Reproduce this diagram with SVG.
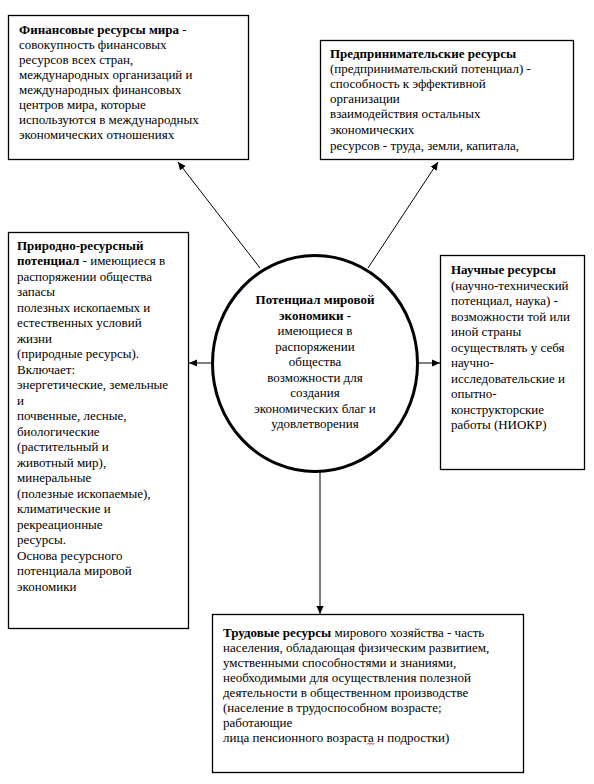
<svg xmlns="http://www.w3.org/2000/svg" width="594" height="784" viewBox="0 0 594 784">
<defs>
<marker id="ah" viewBox="0 0 10 10" refX="10" refY="5" markerWidth="8" markerHeight="8" markerUnits="userSpaceOnUse" orient="auto">
<path d="M0,0.5 L10,5 L0,9.5 z" fill="#000"/>
</marker>
</defs>
<rect width="594" height="784" fill="#fff"/>

<g id="connectors" stroke="#000" stroke-width="1" fill="none">
<line x1="260" y1="268" x2="178" y2="162" marker-end="url(#ah)"/>
<line x1="368" y1="268" x2="438" y2="162" marker-end="url(#ah)"/>
<line x1="212" y1="363" x2="189" y2="363" marker-end="url(#ah)"/>
<line x1="418" y1="363" x2="440" y2="363" marker-end="url(#ah)"/>
<line x1="320" y1="471" x2="320" y2="614" marker-end="url(#ah)"/>
</g>

<g id="financial">
<rect x="8.5" y="15.5" width="240" height="144" fill="#fff" stroke="#000" stroke-width="1.3"/>
<text font-family="Times New Roman, Liberation Serif, serif" font-size="13" x="19" y="34"><tspan font-weight="bold">Финансовые ресурсы мира</tspan> -</text>
<text font-family="Times New Roman, Liberation Serif, serif" font-size="13" x="19" y="49">совокупность финансовых</text>
<text font-family="Times New Roman, Liberation Serif, serif" font-size="13" x="19" y="64">ресурсов всех стран,</text>
<text font-family="Times New Roman, Liberation Serif, serif" font-size="13" x="19" y="79">международных организаций и</text>
<text font-family="Times New Roman, Liberation Serif, serif" font-size="13" x="19" y="94">международных финансовых</text>
<text font-family="Times New Roman, Liberation Serif, serif" font-size="13" x="19" y="109">центров мира, которые</text>
<text font-family="Times New Roman, Liberation Serif, serif" font-size="13" x="19" y="124">используются в международных</text>
<text font-family="Times New Roman, Liberation Serif, serif" font-size="13" x="19" y="139">экономических отношениях</text>
</g>

<g id="entrepreneurial">
<rect x="320.5" y="40.5" width="253" height="119" fill="#fff" stroke="#000" stroke-width="1.3"/>
<text font-family="Times New Roman, Liberation Serif, serif" font-size="13" font-weight="bold" x="330" y="57.5">Предпринимательские ресурсы</text>
<text font-family="Times New Roman, Liberation Serif, serif" font-size="13" x="330" y="73">(предпринимательский потенциал) -</text>
<text font-family="Times New Roman, Liberation Serif, serif" font-size="13" x="330" y="88">способность к эффективной</text>
<text font-family="Times New Roman, Liberation Serif, serif" font-size="13" x="330" y="103">организации</text>
<text font-family="Times New Roman, Liberation Serif, serif" font-size="13" x="330" y="118">взаимодействия остальных</text>
<text font-family="Times New Roman, Liberation Serif, serif" font-size="13" x="330" y="133.5">экономических</text>
<text font-family="Times New Roman, Liberation Serif, serif" font-size="13" x="330" y="149.5">ресурсов - труда, земли, капитала,</text>
</g>

<g id="natural">
<rect x="8.5" y="232.5" width="180" height="396" fill="#fff" stroke="#000" stroke-width="1.3"/>
<text font-family="Times New Roman, Liberation Serif, serif" font-size="13" font-weight="bold" x="17" y="249.5">Природно-ресурсный</text>
<text font-family="Times New Roman, Liberation Serif, serif" font-size="13" x="17" y="265"><tspan font-weight="bold">потенциал</tspan> - имеющиеся в</text>
<text font-family="Times New Roman, Liberation Serif, serif" font-size="13" x="17" y="280.5">распоряжении общества</text>
<text font-family="Times New Roman, Liberation Serif, serif" font-size="13" x="17" y="296">запасы</text>
<text font-family="Times New Roman, Liberation Serif, serif" font-size="13" x="17" y="311.5">полезных ископаемых и</text>
<text font-family="Times New Roman, Liberation Serif, serif" font-size="13" x="17" y="327">естественных условий</text>
<text font-family="Times New Roman, Liberation Serif, serif" font-size="13" x="17" y="342.5">жизни</text>
<text font-family="Times New Roman, Liberation Serif, serif" font-size="13" x="17" y="358">(природные ресурсы).</text>
<text font-family="Times New Roman, Liberation Serif, serif" font-size="13" x="17" y="373.5">Включает:</text>
<text font-family="Times New Roman, Liberation Serif, serif" font-size="13" x="17" y="389">энергетические, земельные</text>
<text font-family="Times New Roman, Liberation Serif, serif" font-size="13" x="17" y="404.5">и</text>
<text font-family="Times New Roman, Liberation Serif, serif" font-size="13" x="17" y="420">почвенные, лесные,</text>
<text font-family="Times New Roman, Liberation Serif, serif" font-size="13" x="17" y="435.5">биологические</text>
<text font-family="Times New Roman, Liberation Serif, serif" font-size="13" x="17" y="451">(растительный и</text>
<text font-family="Times New Roman, Liberation Serif, serif" font-size="13" x="17" y="466.5">животный мир),</text>
<text font-family="Times New Roman, Liberation Serif, serif" font-size="13" x="17" y="482">минеральные</text>
<text font-family="Times New Roman, Liberation Serif, serif" font-size="13" x="17" y="497.5">(полезные ископаемые),</text>
<text font-family="Times New Roman, Liberation Serif, serif" font-size="13" x="17" y="513">климатические и</text>
<text font-family="Times New Roman, Liberation Serif, serif" font-size="13" x="17" y="528.5">рекреационные</text>
<text font-family="Times New Roman, Liberation Serif, serif" font-size="13" x="17" y="544">ресурсы.</text>
<text font-family="Times New Roman, Liberation Serif, serif" font-size="13" x="17" y="559.5">Основа ресурсного</text>
<text font-family="Times New Roman, Liberation Serif, serif" font-size="13" x="17" y="575">потенциала мировой</text>
<text font-family="Times New Roman, Liberation Serif, serif" font-size="13" x="17" y="590.5">экономики</text>
</g>

<g id="center">
<ellipse cx="315" cy="363.5" rx="102.5" ry="108" fill="#fff" stroke="#000" stroke-width="3"/>
<text font-family="Times New Roman, Liberation Serif, serif" font-size="13" text-anchor="middle" font-weight="bold" x="315" y="304">Потенциал мировой</text>
<text font-family="Times New Roman, Liberation Serif, serif" font-size="13" text-anchor="middle" font-weight="bold" x="315" y="319.5">экономики -</text>
<text font-family="Times New Roman, Liberation Serif, serif" font-size="13" text-anchor="middle" x="315" y="335">имеющиеся в</text>
<text font-family="Times New Roman, Liberation Serif, serif" font-size="13" text-anchor="middle" x="315" y="350.5">распоряжении</text>
<text font-family="Times New Roman, Liberation Serif, serif" font-size="13" text-anchor="middle" x="315" y="366">общества</text>
<text font-family="Times New Roman, Liberation Serif, serif" font-size="13" text-anchor="middle" x="315" y="381.5">возможности для</text>
<text font-family="Times New Roman, Liberation Serif, serif" font-size="13" text-anchor="middle" x="315" y="397">создания</text>
<text font-family="Times New Roman, Liberation Serif, serif" font-size="13" text-anchor="middle" x="315" y="412.5">экономических благ и</text>
<text font-family="Times New Roman, Liberation Serif, serif" font-size="13" text-anchor="middle" x="315" y="428">удовлетворения</text>
</g>

<g id="scientific">
<rect x="440.5" y="255.5" width="144" height="214" fill="#fff" stroke="#000" stroke-width="1.3"/>
<text font-family="Times New Roman, Liberation Serif, serif" font-size="13" font-weight="bold" x="451" y="274">Научные ресурсы</text>
<text font-family="Times New Roman, Liberation Serif, serif" font-size="13" x="451" y="289.5">(научно-технический</text>
<text font-family="Times New Roman, Liberation Serif, serif" font-size="13" x="451" y="305">потенциал, наука) -</text>
<text font-family="Times New Roman, Liberation Serif, serif" font-size="13" x="451" y="320.5">возможности той или</text>
<text font-family="Times New Roman, Liberation Serif, serif" font-size="13" x="451" y="336">иной страны</text>
<text font-family="Times New Roman, Liberation Serif, serif" font-size="13" x="451" y="351.5">осуществлять у себя</text>
<text font-family="Times New Roman, Liberation Serif, serif" font-size="13" x="451" y="367">научно-</text>
<text font-family="Times New Roman, Liberation Serif, serif" font-size="13" x="451" y="382.5">исследовательские и</text>
<text font-family="Times New Roman, Liberation Serif, serif" font-size="13" x="451" y="398">опытно-</text>
<text font-family="Times New Roman, Liberation Serif, serif" font-size="13" x="451" y="413.5">конструкторские</text>
<text font-family="Times New Roman, Liberation Serif, serif" font-size="13" x="451" y="429">работы (НИОКР)</text>
</g>

<g id="labour">
<rect x="212.5" y="614.5" width="311" height="158" fill="#fff" stroke="#000" stroke-width="1.3"/>
<text font-family="Times New Roman, Liberation Serif, serif" font-size="13" x="223" y="636.5"><tspan font-weight="bold">Трудовые ресурсы</tspan> мирового хозяйства - часть</text>
<text font-family="Times New Roman, Liberation Serif, serif" font-size="13" x="223" y="651.5">населения, обладающая физическим развитием,</text>
<text font-family="Times New Roman, Liberation Serif, serif" font-size="13" x="223" y="666.5">умственными способностями и знаниями,</text>
<text font-family="Times New Roman, Liberation Serif, serif" font-size="13" x="223" y="681.5">необходимыми для осуществления полезной</text>
<text font-family="Times New Roman, Liberation Serif, serif" font-size="13" x="223" y="696.5">деятельности в общественном производстве</text>
<text font-family="Times New Roman, Liberation Serif, serif" font-size="13" x="223" y="711.5">(население в трудоспособном возрасте;</text>
<text font-family="Times New Roman, Liberation Serif, serif" font-size="13" x="223" y="726.5">работающие</text>
<text font-family="Times New Roman, Liberation Serif, serif" font-size="13" x="223" y="742">лица пенсионного возраста н подростки)</text>
<path d="M367,744.5 l1.5,-1.5 l1.5,1.5 l1.5,-1.5 l1.5,1.5 l1.5,-1.5" stroke="#d00" stroke-width="0.8" fill="none"/>
</g>
</svg>
